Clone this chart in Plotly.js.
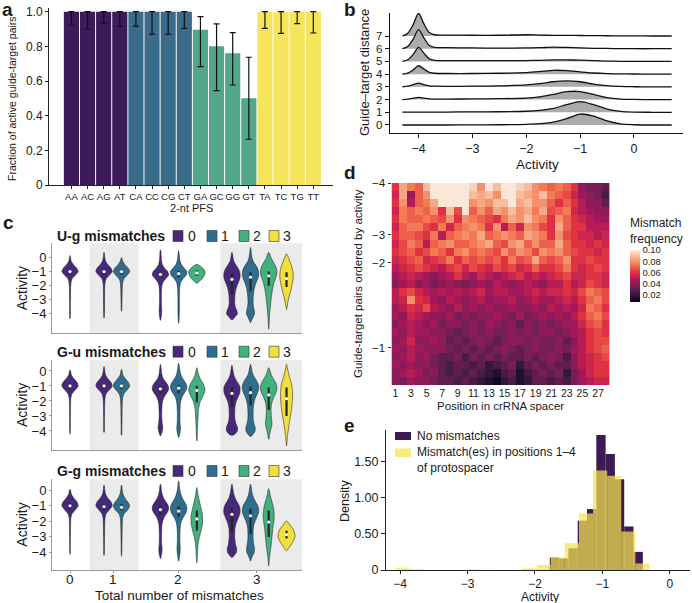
<!DOCTYPE html>
<html><head><meta charset="utf-8">
<script src="https://cdn.plot.ly/plotly-3.0.1.min.js"></script>
<style>html,body{margin:0;padding:0;background:#fff}#chart{width:692px;height:603px}</style>
</head><body><div id="chart"></div>
<script>
// ---------- Panel a: fraction of active pairs per 2-nt PFS ----------
const pfs = ['AA','AC','AG','AT','CA','CC','CG','CT','GA','GC','GG','GT','TA','TC','TG','TT'];
const pfsGroup = [0,0,0,0,1,1,1,1,2,2,2,2,3,3,3,3];
const fracActive = [1,1,1,1,1,1,1,1,0.895,0.80,0.76,0.50,1,1,1,1];
const ciLow = [0.923,0.90,0.933,0.917,0.917,0.871,0.871,0.904,0.683,0.544,0.577,0.264,0.904,0.875,0.931,0.877];
const ciHigh = [1,1,1,1,1,1,1,1,0.971,0.929,0.879,0.737,1,1,1,1];
const nPairs = [44,34,50,40,41,25,25,36,19,15,29,14,35,26,48,28];
const barColors = ['#3b1c58','#3a6b8b','#52a68a','#f6e45c'];

// ---------- Panel b: ridgeline of activity per guide-target distance ----------
const ridgeX = [-4.3,-4.2,-4.1,-4.0,-3.9,-3.8,-3.7,-3.5,-3.0,-2.5,-2.0,-1.75,-1.5,-1.25,-1.0,-0.75,-0.5,-0.25,0,0.35,0.7];
const ridgeDist = [0,1,2,3,4,5,6,7];
const ridgeDensity = [
 [0,0,0,0,0,0,0,0,0.01,0.02,0.05,0.1,0.22,0.5,0.86,0.7,0.32,0.08,0.02,0,0],
 [0.02,0.02,0.02,0.02,0.02,0.02,0.02,0.02,0.03,0.04,0.08,0.15,0.3,0.6,0.84,0.6,0.25,0.07,0.01,0,0],
 [0,0.03,0.1,0.18,0.12,0.06,0.04,0.04,0.05,0.07,0.12,0.22,0.4,0.62,0.63,0.4,0.15,0.04,0.01,0,0],
 [0,0.05,0.17,0.29,0.18,0.08,0.05,0.04,0.05,0.08,0.15,0.25,0.4,0.47,0.4,0.22,0.09,0.03,0.01,0,0],
 [0,0.08,0.33,0.66,0.4,0.14,0.07,0.05,0.05,0.07,0.12,0.2,0.3,0.28,0.18,0.09,0.04,0.02,0.01,0,0],
 [0,0.13,0.55,1.1,0.65,0.2,0.09,0.07,0.06,0.06,0.07,0.09,0.12,0.12,0.1,0.06,0.03,0.01,0,0,0],
 [0,0.18,0.75,1.5,0.85,0.25,0.1,0.08,0.06,0.05,0.06,0.08,0.12,0.1,0.06,0.03,0.02,0.01,0,0,0],
 [0,0.22,0.9,1.79,0.95,0.27,0.1,0.07,0.06,0.06,0.1,0.07,0.05,0.05,0.04,0.03,0.02,0.01,0.01,0,0]
];

// ---------- Panel d: mismatch frequency heatmap ----------
const spacerPos = [1,2,3,4,5,6,7,8,9,10,11,12,13,14,15,16,17,18,19,20,21,22,23,24,25,26,27,28];
const hmZ = [
 [0.06,0.085,0.075,0.07,0.09,0.10,0.10,0.10,0.10,0.10,0.095,0.08,0.10,0.09,0.10,0.10,0.095,0.09,0.08,0.075,0.07,0.075,0.07,0.06,0.04,0.035,0.035,0.03],
 [0.055,0.085,0.045,0.07,0.08,0.10,0.10,0.10,0.10,0.10,0.09,0.085,0.09,0.08,0.10,0.10,0.09,0.085,0.08,0.09,0.075,0.07,0.065,0.055,0.045,0.04,0.035,0.025],
 [0.06,0.08,0.05,0.07,0.075,0.085,0.10,0.10,0.10,0.10,0.08,0.085,0.08,0.09,0.09,0.10,0.085,0.09,0.08,0.08,0.07,0.06,0.07,0.06,0.05,0.04,0.04,0.03],
 [0.055,0.075,0.07,0.075,0.07,0.08,0.06,0.09,0.065,0.10,0.07,0.08,0.07,0.085,0.08,0.09,0.08,0.085,0.075,0.085,0.065,0.07,0.075,0.055,0.05,0.045,0.04,0.04],
 [0.06,0.075,0.07,0.07,0.075,0.07,0.065,0.08,0.06,0.08,0.075,0.07,0.065,0.06,0.075,0.085,0.08,0.09,0.08,0.075,0.06,0.08,0.07,0.06,0.055,0.05,0.045,0.045],
 [0.055,0.07,0.075,0.075,0.065,0.06,0.075,0.055,0.07,0.075,0.08,0.075,0.06,0.08,0.05,0.07,0.055,0.08,0.075,0.065,0.06,0.085,0.07,0.06,0.06,0.05,0.05,0.05],
 [0.06,0.07,0.07,0.065,0.06,0.075,0.05,0.07,0.075,0.08,0.075,0.085,0.07,0.075,0.08,0.075,0.07,0.085,0.08,0.075,0.06,0.08,0.065,0.06,0.055,0.055,0.05,0.055],
 [0.055,0.065,0.075,0.07,0.05,0.07,0.075,0.08,0.07,0.07,0.075,0.08,0.085,0.07,0.065,0.08,0.085,0.07,0.08,0.07,0.07,0.085,0.07,0.06,0.06,0.055,0.06,0.055],
 [0.06,0.065,0.07,0.06,0.065,0.075,0.07,0.06,0.075,0.08,0.07,0.075,0.07,0.065,0.08,0.07,0.08,0.075,0.065,0.08,0.075,0.08,0.07,0.065,0.06,0.06,0.055,0.06],
 [0.055,0.06,0.065,0.07,0.055,0.06,0.065,0.075,0.06,0.07,0.065,0.07,0.065,0.07,0.06,0.075,0.065,0.07,0.085,0.07,0.065,0.07,0.08,0.06,0.06,0.065,0.06,0.06],
 [0.05,0.055,0.06,0.065,0.06,0.055,0.05,0.06,0.065,0.055,0.065,0.06,0.055,0.065,0.06,0.065,0.055,0.06,0.07,0.06,0.06,0.065,0.075,0.06,0.055,0.06,0.065,0.06],
 [0.045,0.05,0.055,0.05,0.045,0.04,0.045,0.05,0.06,0.05,0.045,0.055,0.05,0.045,0.05,0.055,0.06,0.05,0.055,0.05,0.055,0.06,0.065,0.055,0.055,0.06,0.06,0.055],
 [0.04,0.045,0.05,0.04,0.045,0.035,0.04,0.045,0.04,0.035,0.04,0.045,0.04,0.05,0.045,0.04,0.045,0.05,0.045,0.04,0.05,0.05,0.06,0.05,0.055,0.065,0.06,0.055],
 [0.05,0.06,0.065,0.055,0.05,0.045,0.05,0.045,0.05,0.045,0.05,0.055,0.045,0.05,0.05,0.045,0.045,0.05,0.055,0.05,0.055,0.055,0.06,0.055,0.065,0.075,0.07,0.065],
 [0.05,0.055,0.08,0.06,0.055,0.045,0.04,0.05,0.045,0.04,0.045,0.05,0.04,0.045,0.045,0.05,0.04,0.045,0.05,0.045,0.045,0.05,0.055,0.05,0.06,0.07,0.075,0.065],
 [0.045,0.05,0.06,0.055,0.065,0.05,0.045,0.04,0.05,0.04,0.045,0.04,0.045,0.04,0.04,0.045,0.04,0.04,0.045,0.04,0.05,0.045,0.05,0.045,0.055,0.075,0.07,0.06],
 [0.045,0.04,0.055,0.05,0.045,0.04,0.04,0.045,0.035,0.04,0.035,0.04,0.04,0.045,0.04,0.035,0.045,0.035,0.04,0.045,0.04,0.045,0.04,0.05,0.06,0.07,0.075,0.065],
 [0.04,0.045,0.05,0.045,0.04,0.045,0.035,0.04,0.04,0.035,0.04,0.035,0.045,0.04,0.035,0.04,0.03,0.04,0.035,0.04,0.035,0.04,0.045,0.045,0.055,0.065,0.07,0.06],
 [0.045,0.04,0.05,0.045,0.045,0.04,0.04,0.035,0.03,0.035,0.04,0.035,0.04,0.035,0.035,0.04,0.035,0.04,0.035,0.04,0.04,0.035,0.04,0.045,0.05,0.06,0.065,0.06],
 [0.04,0.045,0.055,0.04,0.04,0.045,0.04,0.03,0.035,0.03,0.035,0.04,0.035,0.03,0.035,0.04,0.04,0.035,0.04,0.035,0.035,0.04,0.03,0.04,0.05,0.06,0.065,0.065],
 [0.045,0.04,0.05,0.045,0.04,0.04,0.04,0.035,0.03,0.035,0.03,0.035,0.03,0.035,0.04,0.035,0.03,0.035,0.04,0.035,0.035,0.04,0.035,0.045,0.05,0.06,0.065,0.07],
 [0.04,0.045,0.05,0.04,0.045,0.035,0.03,0.03,0.035,0.025,0.035,0.03,0.035,0.03,0.035,0.03,0.03,0.035,0.03,0.035,0.04,0.035,0.025,0.04,0.05,0.055,0.06,0.065],
 [0.045,0.04,0.045,0.04,0.04,0.035,0.03,0.025,0.03,0.03,0.025,0.03,0.02,0.025,0.03,0.035,0.02,0.03,0.035,0.03,0.035,0.03,0.03,0.04,0.05,0.055,0.06,0.06],
 [0.04,0.045,0.05,0.045,0.035,0.04,0.03,0.025,0.03,0.025,0.03,0.025,0.02,0.015,0.025,0.03,0.015,0.025,0.03,0.035,0.03,0.035,0.02,0.035,0.045,0.055,0.06,0.06],
 [0.04,0.035,0.045,0.04,0.04,0.035,0.03,0.03,0.025,0.03,0.025,0.02,0.015,0.01,0.02,0.025,0.015,0.02,0.03,0.03,0.025,0.03,0.025,0.035,0.045,0.05,0.055,0.055]
];
const hmRowTickPos = [-0.5, 5.9, 9.4, 19.9];
const hmRowTickText = ['\u22124','\u22123','\u22122','\u22121'];
const rocket = [[0,'#03051a'],[0.143,'#35193e'],[0.286,'#701f57'],[0.429,'#ad1759'],[0.571,'#e13342'],[0.714,'#f37651'],[0.857,'#f6b48f'],[1,'#faebdd']];

// ---------- Panel e: activity histograms ----------
const noMmBinLeft = -1.78, noMmBinWidth = 0.138;
const noMmDensity = [0.17,0.16,0.30,0.68,0.84,1.86,1.60,1.25,0.60,0.25];
const mmBinLeft = -4.07, mmBinWidth = 0.2094;
const mmDensity = [0.032,0.014,0,0,0,0.01,0.005,0,0.005,0.023,0.07,0.17,0.37,0.78,1.37,1.30,0.53,0.09];

// ---------- Panel c: violins ----------
const violinGrid = [0.75,0.5,0.25,0,-0.25,-0.5,-0.75,-1,-1.25,-1.5,-1.75,-2,-2.25,-2.5,-2.75,-3,-3.25,-3.5,-3.75,-4,-4.25,-4.5,-4.75,-5];
const violinPos = [0,1.87,2.83,4.97,5.97,6.97,8.9,9.92,10.92,11.9];
const violinClass = [0,0,1,0,1,2,0,1,2,3];
const groupTickPos = [0,2.38,5.95,10.26];
const groupLabels = ['0','1','2','3'];
const violinColors = ['#48287a','#2e6d8e','#42b07f','#f2df3a'];

const ugTop = [0.14,0.37,0.0,0.53,0.49,-0.49,0.37,0.72,0.37,0.26];
const ugBot = [-4.36,-4.29,-3.82,-4.47,-4.68,-1.84,-4.45,-4.64,-5.1,-3.7];
const ugWidth = [
 [0,0,0,0.03,0.06,0.18,0.36,0.45,0.3,0.12,0.06,0.04,0.03,0.03,0.025,0.025,0.02,0.02,0.02,0.02,0.015,0,0,0],
 [0,0,0.02,0.04,0.08,0.2,0.38,0.45,0.3,0.12,0.06,0.04,0.035,0.03,0.03,0.03,0.025,0.025,0.025,0.02,0.015,0,0,0],
 [0,0,0,0.02,0.06,0.18,0.36,0.45,0.32,0.14,0.07,0.05,0.04,0.035,0.03,0.03,0.025,0.02,0.015,0,0,0,0,0],
 [0,0.02,0.03,0.04,0.06,0.1,0.22,0.4,0.45,0.3,0.15,0.08,0.06,0.05,0.05,0.05,0.05,0.06,0.07,0.06,0.04,0,0,0],
 [0,0,0.03,0.05,0.08,0.15,0.3,0.45,0.42,0.25,0.12,0.07,0.05,0.045,0.04,0.04,0.04,0.04,0.04,0.035,0.03,0.02,0,0],
 [0,0,0,0,0,0.05,0.32,0.45,0.42,0.3,0.1,0,0,0,0,0,0,0,0,0,0,0,0,0],
 [0,0,0.03,0.06,0.1,0.2,0.33,0.42,0.45,0.43,0.36,0.28,0.22,0.18,0.16,0.15,0.15,0.18,0.26,0.3,0.15,0,0,0],
 [0,0.03,0.05,0.08,0.14,0.26,0.38,0.44,0.45,0.4,0.32,0.25,0.2,0.17,0.15,0.14,0.14,0.16,0.2,0.22,0.14,0.05,0,0],
 [0,0,0.06,0.12,0.22,0.33,0.42,0.45,0.43,0.37,0.3,0.25,0.21,0.18,0.15,0.13,0.11,0.09,0.07,0.05,0.04,0.03,0.02,0.01],
 [0,0,0.02,0.1,0.18,0.25,0.31,0.35,0.37,0.36,0.33,0.29,0.25,0.2,0.15,0.1,0.06,0.03,0,0,0,0,0,0]
];
const ugMed = [-1.0,-1.0,-1.0,-1.2,-1.15,-1.1,-1.55,-1.4,-1.3,-1.5];
const ugQ1 = [-1.2,-1.2,-1.2,-1.4,-1.4,-1.3,-2.6,-2.4,-2.0,-2.1];
const ugQ3 = [-0.85,-0.85,-0.85,-1.0,-0.95,-0.9,-1.1,-1.05,-1.0,-1.05];

const guTop = [0.07,0.29,0.11,0.44,0.51,0.22,0.38,0.44,0.22,0.44];
const guBot = [-4.22,-4.1,-4.29,-4.33,-4.44,-4.67,-4.29,-4.38,-4.56,-5.0];
const guWidth = [
 [0,0,0,0.03,0.07,0.2,0.38,0.45,0.3,0.12,0.05,0.035,0.03,0.025,0.025,0.02,0.02,0.02,0.02,0.015,0,0,0,0],
 [0,0,0.02,0.04,0.08,0.2,0.38,0.45,0.3,0.12,0.06,0.04,0.035,0.03,0.03,0.025,0.025,0.02,0.02,0.02,0,0,0,0],
 [0,0,0,0.03,0.07,0.2,0.37,0.45,0.32,0.14,0.07,0.05,0.04,0.035,0.03,0.03,0.025,0.025,0.02,0.02,0.015,0,0,0],
 [0,0,0.03,0.05,0.08,0.15,0.3,0.43,0.45,0.33,0.2,0.12,0.09,0.08,0.07,0.07,0.08,0.1,0.13,0.1,0.04,0,0,0],
 [0,0.01,0.04,0.07,0.12,0.22,0.36,0.45,0.42,0.3,0.18,0.12,0.09,0.08,0.07,0.07,0.07,0.08,0.1,0.09,0.05,0,0,0],
 [0,0,0.02,0.05,0.1,0.18,0.3,0.4,0.45,0.4,0.3,0.2,0.14,0.1,0.08,0.07,0.06,0.05,0.04,0.03,0.03,0.02,0,0],
 [0,0,0.03,0.06,0.1,0.18,0.3,0.42,0.45,0.42,0.33,0.24,0.19,0.16,0.15,0.15,0.17,0.22,0.3,0.3,0.12,0,0,0],
 [0,0,0.04,0.08,0.14,0.26,0.38,0.45,0.44,0.37,0.28,0.21,0.17,0.15,0.14,0.14,0.15,0.19,0.25,0.25,0.12,0,0,0],
 [0,0,0.03,0.07,0.14,0.25,0.37,0.44,0.45,0.38,0.28,0.2,0.15,0.13,0.13,0.14,0.16,0.18,0.15,0.09,0.05,0.02,0,0],
 [0,0,0.04,0.08,0.13,0.19,0.25,0.3,0.32,0.33,0.33,0.32,0.3,0.28,0.25,0.22,0.18,0.15,0.12,0.09,0.06,0.04,0.02,0]
];
const guMed = [-1.0,-1.0,-1.0,-1.2,-1.15,-1.3,-1.5,-1.45,-1.6,-1.85];
const guQ1 = [-1.2,-1.2,-1.2,-1.5,-1.5,-2.1,-2.4,-2.3,-2.6,-3.0];
const guQ3 = [-0.85,-0.85,-0.85,-1.0,-0.95,-1.0,-1.1,-1.05,-1.1,-1.1];

const ggTop = [0.06,0.32,0.32,0.39,0.6,0.17,0.39,0.39,0.1,-1.98];
const ggBot = [-4.13,-4.19,-4.24,-4.41,-4.56,-4.67,-4.34,-4.56,-4.87,-3.9];
const ggWidth = [
 [0,0,0,0.03,0.07,0.2,0.38,0.45,0.3,0.12,0.05,0.035,0.03,0.025,0.025,0.02,0.02,0.02,0.02,0.015,0,0,0,0],
 [0,0,0.02,0.04,0.08,0.2,0.38,0.45,0.3,0.12,0.06,0.04,0.035,0.03,0.03,0.025,0.025,0.02,0.02,0.02,0,0,0,0],
 [0,0,0.02,0.04,0.08,0.18,0.34,0.45,0.35,0.15,0.07,0.05,0.04,0.035,0.03,0.03,0.025,0.025,0.02,0.02,0,0,0,0],
 [0,0,0.03,0.05,0.09,0.17,0.3,0.43,0.45,0.34,0.2,0.12,0.08,0.07,0.06,0.06,0.06,0.07,0.09,0.08,0.04,0,0,0],
 [0,0.02,0.04,0.07,0.12,0.2,0.32,0.43,0.45,0.38,0.25,0.15,0.1,0.08,0.07,0.07,0.07,0.08,0.09,0.08,0.05,0.02,0,0],
 [0,0,0,0.03,0.06,0.1,0.15,0.2,0.25,0.3,0.32,0.32,0.3,0.25,0.2,0.14,0.1,0.07,0.05,0.04,0.03,0.015,0,0],
 [0,0,0.03,0.06,0.1,0.17,0.28,0.4,0.45,0.44,0.36,0.27,0.2,0.16,0.15,0.15,0.17,0.2,0.26,0.24,0.08,0,0,0],
 [0,0,0.03,0.06,0.1,0.17,0.28,0.4,0.45,0.43,0.34,0.25,0.18,0.15,0.14,0.14,0.15,0.18,0.22,0.2,0.1,0.02,0,0],
 [0,0,0,0.03,0.07,0.12,0.18,0.24,0.28,0.3,0.3,0.28,0.25,0.22,0.2,0.18,0.16,0.14,0.11,0.08,0.05,0.03,0.015,0],
 [0,0,0,0,0,0,0,0,0,0,0,0.03,0.2,0.36,0.44,0.47,0.38,0.25,0.1,0,0,0,0,0]
];
const ggMed = [-1.0,-1.05,-1.1,-1.25,-1.35,-1.85,-1.55,-1.65,-2.05,-2.85];
const ggQ1 = [-1.2,-1.25,-1.3,-1.55,-1.7,-2.6,-2.7,-2.8,-3.0,-3.1];
const ggQ3 = [-0.85,-0.9,-0.9,-1.0,-1.05,-1.3,-1.15,-1.2,-1.3,-2.6];

// ================= build =================
const W = 692, H = 603;
const px = v => v / W, py = v => 1 - v / H;
const FONT = 'Liberation Sans, Arial, Helvetica, sans-serif';
const traces = [];

// Panel a bars
traces.push({
  type:'bar', x:pfs, y:fracActive, xaxis:'x', yaxis:'y', width:0.94,
  marker:{color:pfsGroup.map(g=>barColors[g]), line:{width:0}},
  error_y:{type:'data', symmetric:false,
    array:ciHigh.map((h,i)=>h-fracActive[i]), arrayminus:ciLow.map((l,i)=>fracActive[i]-l),
    color:'#111', thickness:1.2, width:3},
  hoverinfo:'skip'
});

// Panel b ridgelines (top first so lower ridges are in front)
for (let k = ridgeDist.length - 1; k >= 0; k--) {
  const d = ridgeDist[k];
  traces.push({type:'scatter', mode:'lines', x:ridgeX, y:ridgeX.map(()=>d), xaxis:'x2', yaxis:'y2',
    line:{width:0, color:'rgba(0,0,0,0)'}, hoverinfo:'skip'});
  traces.push({type:'scatter', mode:'lines', x:ridgeX, y:ridgeDensity[k].map(v=>d+v), xaxis:'x2', yaxis:'y2',
    fill:'tonexty', fillcolor:'#ababab', line:{color:'#111', width:1.3, shape:'spline', smoothing:0.8}, hoverinfo:'skip'});
}

// Panel d heatmap
traces.push({
  type:'heatmap', z:hmZ, x:spacerPos, y:hmZ.map((r,i)=>i), xaxis:'x3', yaxis:'y3',
  colorscale:rocket, zmin:0.007, zmax:0.101, hoverinfo:'skip',
  colorbar:{x:px(630), xanchor:'left', xpad:0, y:py(215), yanchor:'top', ypad:0,
    len:87, lenmode:'pixels', thickness:10, outlinewidth:0, ticks:'',
    tickvals:[0.02,0.04,0.06,0.08,0.10], ticktext:['0.02','0.04','0.06','0.08','0.10'],
    tickfont:{size:9.5, family:FONT, color:'#222'},
    title:{text:'Mismatch<br>frequency', side:'top', font:{size:12, family:FONT, color:'#222'}}}
});

// Panel e histograms
traces.push({type:'bar', x:noMmDensity.map((v,i)=>noMmBinLeft + (i+0.5)*noMmBinWidth), y:noMmDensity,
  width:noMmBinWidth, xaxis:'x4', yaxis:'y4', marker:{color:'#3b1a55', line:{width:0}}, hoverinfo:'skip'});
traces.push({type:'bar', x:mmDensity.map((v,i)=>mmBinLeft + (i+0.5)*mmBinWidth), y:mmDensity,
  width:mmBinWidth, xaxis:'x4', yaxis:'y4', marker:{color:'rgba(247,229,77,0.72)', line:{width:0}}, hoverinfo:'skip'});

// Panel c violins
function addViolins(xa, ya, tops, bots, widths, meds, q1s, q3s) {
  for (let j = 0; j < violinPos.length; j++) {
    const pos = violinPos[j], top = tops[j], bot = bots[j], w = widths[j];
    const ys = [top], xr = [pos];
    for (let i = 0; i < violinGrid.length; i++) {
      if (violinGrid[i] < top && violinGrid[i] > bot && w[i] > 0) { ys.push(violinGrid[i]); xr.push(pos + w[i]); }
    }
    ys.push(bot); xr.push(pos);
    const xs = xr.slice(), yy = ys.slice();
    for (let i = ys.length - 2; i >= 1; i--) { xs.push(2*pos - xr[i]); yy.push(ys[i]); }
    xs.push(pos); yy.push(top);
    traces.push({type:'scatter', mode:'lines', x:xs, y:yy, xaxis:xa, yaxis:ya, fill:'toself',
      fillcolor:violinColors[violinClass[j]], line:{color:'rgba(35,35,35,0.8)', width:0.7, shape:'spline', smoothing:0.6},
      hoverinfo:'skip'});
  }
  const bx = [], by = [];
  violinPos.forEach((p,j)=>{ bx.push(p,p,null); by.push(q1s[j], q3s[j], null); });
  traces.push({type:'scatter', mode:'lines', x:bx, y:by, xaxis:xa, yaxis:ya, line:{color:'#262626', width:2.2}, hoverinfo:'skip'});
  traces.push({type:'scatter', mode:'markers', x:violinPos, y:meds, xaxis:xa, yaxis:ya,
    marker:{color:'#ffffff', size:3.2, line:{width:0}}, hoverinfo:'skip'});
}
addViolins('x5','y5', ugTop, ugBot, ugWidth, ugMed, ugQ1, ugQ3);
addViolins('x6','y6', guTop, guBot, guWidth, guMed, guQ1, guQ3);
addViolins('x7','y7', ggTop, ggBot, ggWidth, ggMed, ggQ1, ggQ3);

// ---------- layout ----------
const base = {showgrid:false, zeroline:false, fixedrange:true};
const tf = s => ({size:s, family:FONT, color:'#1a1a1a'});
const layout = {
  width:W, height:H, margin:{l:0,r:0,t:0,b:0}, paper_bgcolor:'#fff', plot_bgcolor:'rgba(0,0,0,0)',
  showlegend:false, barmode:'overlay', font:{family:FONT, color:'#1a1a1a'},
  xaxis:Object.assign({}, base, {domain:[px(49),px(333)], anchor:'y', type:'category', range:[-1.39,16.22], tickangle:0,
    showline:true, linecolor:'#222', linewidth:1, ticks:'outside', ticklen:3, tickcolor:'#222', tickfont:tf(9.5)}),
  yaxis:Object.assign({}, base, {domain:[py(185),py(8.2)], anchor:'x', range:[0,1.02],
    tickvals:[0,0.2,0.4,0.6,0.8,1.0], ticktext:['0','0.2','0.4','0.6','0.8','1.0'],
    showline:true, linecolor:'#222', linewidth:1, ticks:'outside', ticklen:3, tickcolor:'#222', tickfont:tf(12)}),
  xaxis2:Object.assign({}, base, {domain:[px(390),px(683)], anchor:'y2', range:[-4.53,0.91], tickangle:0,
    tickvals:[-4,-3,-2,-1,0], showline:true, linecolor:'#111', linewidth:1.2, ticks:'outside', ticklen:4, tickcolor:'#111', tickfont:tf(12.5)}),
  yaxis2:Object.assign({}, base, {domain:[py(133),py(13)], anchor:'x2', range:[-0.63,8.81],
    tickvals:ridgeDist, showline:true, linecolor:'#111', linewidth:1.2, ticks:'outside', ticklen:4, tickcolor:'#111', tickfont:tf(11.5)}),
  xaxis3:Object.assign({}, base, {domain:[px(391.5),px(609.7)], anchor:'y3', range:[0.5,28.5], tickangle:0,
    tickvals:[1,3,5,7,9,11,13,15,17,19,21,23,25,27], showline:false, ticks:'', tickfont:tf(10.5)}),
  yaxis3:Object.assign({}, base, {domain:[py(385),py(183)], anchor:'x3', range:[24.5,-0.5],
    tickvals:hmRowTickPos, ticktext:hmRowTickText, showline:false, ticks:'outside', ticklen:3, tickcolor:'#333', tickfont:tf(11.5)}),
  xaxis4:Object.assign({}, base, {domain:[px(386),px(690)], anchor:'y4', range:[-4.21,0.3], tickangle:0,
    tickvals:[-4,-3,-2,-1,0], showline:true, linecolor:'#222', linewidth:1, ticks:'outside', ticklen:3, tickcolor:'#222', tickfont:tf(12)}),
  yaxis4:Object.assign({}, base, {domain:[py(570),py(430)], anchor:'x4', range:[0,1.93],
    tickvals:[0,0.5,1,1.5], ticktext:['0','0.50','1.00','1.50'], showline:true, linecolor:'#222', linewidth:1, ticks:'outside', ticklen:4, tickcolor:'#222', tickfont:tf(12.5)}),
  shapes:[], annotations:[]
};
const cPanels = [
  {xa:'xaxis5', ya:'yaxis5', x:'x5', y:'y5', top:243.3, bot:333.3, range:[-5.39,1.01], title:'U-g mismatches', ty:236},
  {xa:'xaxis6', ya:'yaxis6', x:'x6', y:'y6', top:360, bot:450, range:[-5.27,0.73], title:'G-u mismatches', ty:351.7},
  {xa:'xaxis7', ya:'yaxis7', x:'x7', y:'y7', top:479.3, bot:570, range:[-5.13,0.70], title:'G-g mismatches', ty:471}
];
const A = (text, x, y, size, extra) => Object.assign({text, x:px(x), y:py(y), xref:'paper', yref:'paper',
  xanchor:'center', yanchor:'middle', showarrow:false, font:tf(size)}, extra||{});
const bands = [[1.08,3.77],[8.26,12.75]];
cPanels.forEach((p, idx) => {
  const last = idx === cPanels.length - 1;
  layout[p.xa] = Object.assign({}, base, {domain:[px(52),px(302)], anchor:p.y, range:[-0.99,12.75],
    tickvals:groupTickPos, showticklabels:false, ticks:last?'outside':'', ticklen:2, tickcolor:'#999',
    showline:true, linecolor:'#9a9a9a', linewidth:1});
  layout[p.ya] = Object.assign({}, base, {domain:[py(p.bot),py(p.top)], anchor:p.x, range:p.range,
    tickvals:[0,-1,-2,-3,-4], showline:true, linecolor:'#9a9a9a', linewidth:1, ticks:'outside', ticklen:2, tickcolor:'#9a9a9a', tickfont:tf(13)});
  bands.forEach(b => layout.shapes.push({type:'rect', xref:p.x, yref:p.y + ' domain', x0:b[0], x1:b[1], y0:0, y1:1,
    fillcolor:'#ebebeb', line:{width:0}, layer:'below'}));
  layout.annotations.push(A('<b>'+p.title+'</b>', 55, p.ty, 14, {xanchor:'left'}));
  const keyX = [173,207,239,269], labX = [186,219,251,281];
  keyX.forEach((kx, c) => {
    layout.shapes.push({type:'rect', xref:'paper', yref:'paper', x0:px(kx), x1:px(kx+10), y0:py(p.ty+5.5), y1:py(p.ty-5.5),
      fillcolor:violinColors[c], line:{color:'#333', width:0.6}});
    layout.annotations.push(A(groupLabels[c], labX[c], p.ty, 14, {xanchor:'left'}));
  });
  layout.annotations.push(A('Activity', 22, (p.top+p.bot)/2, 14, {textangle:-90}));
});
// group tick labels of the bottom violin panel (placed on the panel's own x scale)
groupTickPos.forEach((g, i) => {
  layout.annotations.push({text:groupLabels[i], x:g, xref:'x7', y:py(579.5), yref:'paper',
    xanchor:'center', yanchor:'middle', showarrow:false, font:tf(13.5)});
});

// panel e legend keys
layout.shapes.push({type:'rect', xref:'paper', yref:'paper', x0:px(395), x1:px(411), y0:py(440), y1:py(432), fillcolor:'#3b1a55', line:{width:0}});
layout.shapes.push({type:'rect', xref:'paper', yref:'paper', x0:px(395), x1:px(411), y0:py(457), y1:py(448.5), fillcolor:'rgba(247,229,77,0.72)', line:{width:0}});

layout.annotations.push(
  A('<b>a</b>', 0, 9, 19, {xanchor:'left'}),
  A('<b>b</b>', 342, 9, 19, {xanchor:'left'}),
  A('<b>c</b>', 1, 222, 19, {xanchor:'left'}),
  A('<b>d</b>', 342, 172, 19, {xanchor:'left'}),
  A('<b>e</b>', 342, 425, 19, {xanchor:'left'}),
  A('Fraction of active guide-target pairs', 12, 99, 10.5, {textangle:-90}),
  A('2-nt PFS', 191, 208, 11),
  A('Guide\u2013target distance', 364, 73, 13, {textangle:-90}),
  A('Activity', 537, 164.5, 13.5),
  A('Guide-target pairs ordered by activity', 358, 284, 11.5, {textangle:-90}),
  A('Position in crRNA spacer', 500.6, 406, 11.5),
  A('Density', 345, 501, 12.5, {textangle:-90}),
  A('Activity', 540, 597, 12),
  A('Total number of mismatches', 179, 595, 13.5),
  A('No mismatches', 415, 436, 12, {xanchor:'left'}),
  A('Mismatch(es) in positions 1\u20134<br>of protospacer', 415, 460, 12, {xanchor:'left', align:'left'})
);
// n labels over bars
pfs.forEach((c, i) => {
  layout.annotations.push({text: i === 0 ? '<i>n</i>=' + nPairs[i] : String(nPairs[i]), x:c, y:1.045, xref:'x', yref:'y',
    xanchor:'center', yanchor:'middle', showarrow:false, font:tf(7.5), xshift: i === 0 ? -5 : 0});
});

Plotly.newPlot('chart', traces, layout, {staticPlot:true, displayModeBar:false});
</script></body></html>
